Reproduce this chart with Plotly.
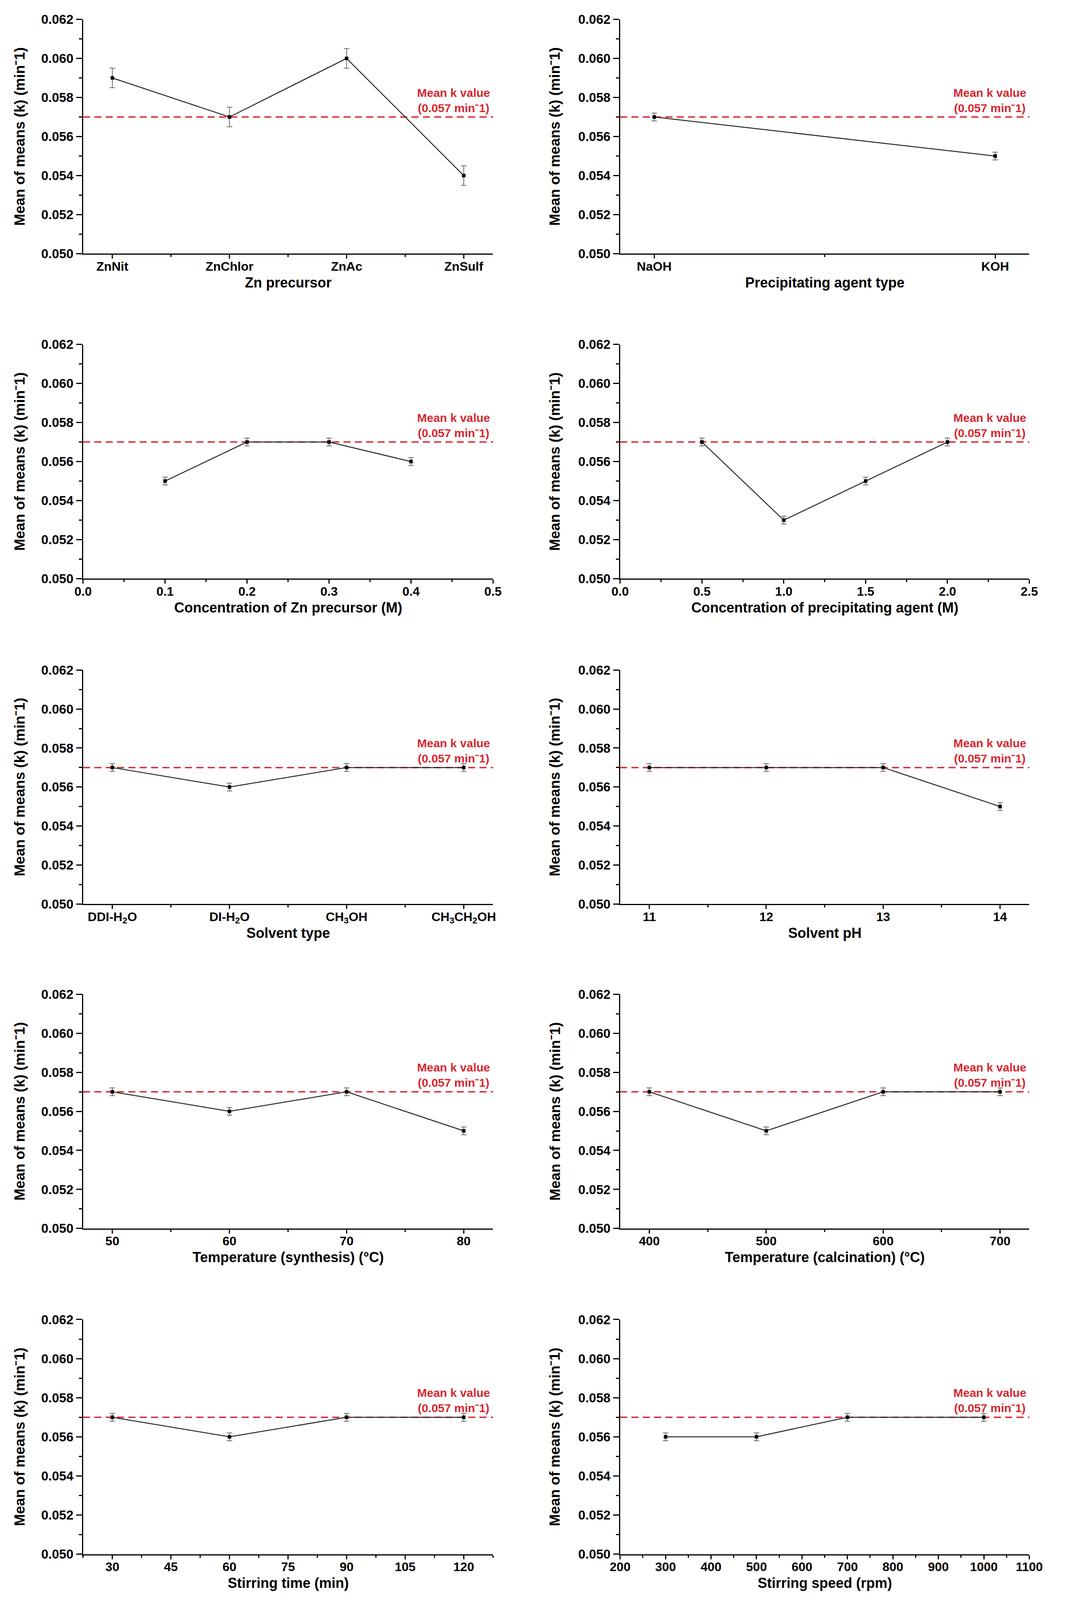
import plotly.graph_objects as go

# ---------------- data ----------------
MEAN_K = 0.057
Y_TITLE = "Mean of means (k) (min⁻1)"
MEAN_LABEL = "Mean k value<br>(0.057 min⁻1)"

zn_precursor = ["ZnNit", "ZnChlor", "ZnAc", "ZnSulf"]
zn_precursor_k = [0.059, 0.057, 0.060, 0.054]
zn_precursor_err = [0.0005, 0.0005, 0.0005, 0.0005]

precip_agent = ["NaOH", "KOH"]
precip_agent_k = [0.057, 0.055]
precip_agent_err = [0.0002, 0.0002]

zn_conc = [0.1, 0.2, 0.3, 0.4]
zn_conc_k = [0.055, 0.057, 0.057, 0.056]
zn_conc_err = [0.0002, 0.0002, 0.0002, 0.0002]

precip_conc = [0.5, 1.0, 1.5, 2.0]
precip_conc_k = [0.057, 0.053, 0.055, 0.057]
precip_conc_err = [0.0002, 0.0002, 0.0002, 0.0002]

solvent = ["DDI-H<sub>2</sub>O", "DI-H<sub>2</sub>O", "CH<sub>3</sub>OH", "CH<sub>3</sub>CH<sub>2</sub>OH"]
solvent_k = [0.057, 0.056, 0.057, 0.057]
solvent_err = [0.0002, 0.0002, 0.0002, 0.0002]

ph = [11, 12, 13, 14]
ph_k = [0.057, 0.057, 0.057, 0.055]
ph_err = [0.0002, 0.0002, 0.0002, 0.0002]

t_synth = [50, 60, 70, 80]
t_synth_k = [0.057, 0.056, 0.057, 0.055]
t_synth_err = [0.0002, 0.0002, 0.0002, 0.0002]

t_calc = [400, 500, 600, 700]
t_calc_k = [0.057, 0.055, 0.057, 0.057]
t_calc_err = [0.0002, 0.0002, 0.0002, 0.0002]

stir_time = [30, 60, 90, 120]
stir_time_k = [0.057, 0.056, 0.057, 0.057]
stir_time_err = [0.0002, 0.0002, 0.0002, 0.0002]

stir_speed = [300, 500, 700, 1000]
stir_speed_k = [0.056, 0.056, 0.057, 0.057]
stir_speed_err = [0.0002, 0.0002, 0.0002, 0.0002]

# ---------------- panel configuration ----------------
panels = [
    dict(cats=zn_precursor, y=zn_precursor_k, err=zn_precursor_err, title="Zn precursor",
         rng=[-0.25, 3.25]),
    dict(cats=precip_agent, y=precip_agent_k, err=precip_agent_err, title="Precipitating agent type",
         rng=[-0.1, 1.1]),
    dict(x=zn_conc, y=zn_conc_k, err=zn_conc_err, title="Concentration of Zn precursor (M)",
         rng=[0, 0.5], dtick=0.1, mdtick=0.05, fmt=".1f", tick0=0),
    dict(x=precip_conc, y=precip_conc_k, err=precip_conc_err, title="Concentration of precipitating agent (M)",
         rng=[0, 2.5], dtick=0.5, mdtick=0.25, fmt=".1f", tick0=0),
    dict(cats=solvent, y=solvent_k, err=solvent_err, title="Solvent type",
         rng=[-0.25, 3.25]),
    dict(x=ph, y=ph_k, err=ph_err, title="Solvent pH",
         rng=[10.75, 14.25], dtick=1, mdtick=0.5, tick0=11),
    dict(x=t_synth, y=t_synth_k, err=t_synth_err, title="Temperature (synthesis) (°C)",
         rng=[47.5, 82.5], dtick=10, mdtick=5, tick0=50),
    dict(x=t_calc, y=t_calc_k, err=t_calc_err, title="Temperature (calcination) (°C)",
         rng=[375, 725], dtick=100, mdtick=50, tick0=400),
    dict(x=stir_time, y=stir_time_k, err=stir_time_err, title="Stirring time (min)",
         rng=[22.5, 127.5], dtick=15, mdtick=7.5, tick0=30),
    dict(x=stir_speed, y=stir_speed_k, err=stir_speed_err, title="Stirring speed (rpm)",
         rng=[200, 1100], dtick=100, mdtick=50, tick0=200),
]

# reference geometry (in reference pixels, 2732 x 5400), converted to paper fractions
REF_W, REF_H = 2732, 5400
col_px = [(190, 1264), (1597, 2669)]
ytitle_px = [24, 1426]
row_px = [(42, 840), (1149, 1947), (2258, 3055), (3362, 4160), (4470, 5269)]

FONT = "Liberation Sans, Arial, Helvetica, sans-serif"
RED = "#d8262e"

fig = go.Figure()
layout = dict(
    autosize=True, margin=dict(l=0, r=0, t=0, b=0),
    paper_bgcolor="white", plot_bgcolor="white", showlegend=False,
    shapes=[], annotations=[],
)

for i, p in enumerate(panels):
    r, c = divmod(i, 2)
    n = i + 1
    xa = "x" if n == 1 else f"x{n}"
    ya = "y" if n == 1 else f"y{n}"
    xkey = "xaxis" if n == 1 else f"xaxis{n}"
    ykey = "yaxis" if n == 1 else f"yaxis{n}"

    xs = list(range(len(p["cats"]))) if "cats" in p else p["x"]

    fig.add_trace(go.Scatter(
        x=xs, y=p["y"], xaxis=xa, yaxis=ya, mode="lines+markers",
        line=dict(color="#2a2a2a", width=2.5),
        marker=dict(symbol="square", size=9, color="black"),
        error_y=dict(type="data", array=p["err"], color="#6a6a6a", thickness=2, width=7),
        showlegend=False,
    ))

    x0, x1 = col_px[c]
    y0, y1 = row_px[r]
    xdom = [x0 / REF_W, x1 / REF_W]
    ydom = [1 - y1 / REF_H, 1 - y0 / REF_H]

    xaxis = dict(
        domain=xdom, anchor=ya, range=p["rng"], showgrid=False, zeroline=False,
        showline=True, linecolor="black", linewidth=3,
        ticks="outside", ticklen=10, tickwidth=3, tickcolor="black",
        tickfont=dict(family=FONT, size=32, color="black", weight="bold"),
        ticklabelstandoff=-8,
    )
    if "cats" in p:
        xaxis.update(tickmode="array", tickvals=xs, ticktext=p["cats"],
                     minor=dict(ticks="outside", ticklen=6, tickwidth=3, tickcolor="black",
                                tickmode="array", tickvals=[v + 0.5 for v in xs[:-1]]))
    else:
        xaxis.update(tickmode="linear", tick0=p["tick0"], dtick=p["dtick"],
                     minor=dict(ticks="outside", ticklen=6, tickwidth=3, tickcolor="black",
                                dtick=p["mdtick"], tick0=p["tick0"]))
        if "fmt" in p:
            xaxis["tickformat"] = p["fmt"]

    yaxis = dict(
        domain=ydom, anchor=xa, range=[0.050, 0.062], showgrid=False, zeroline=False,
        showline=True, linecolor="black", linewidth=3,
        tickmode="linear", tick0=0.050, dtick=0.002, tickformat=".3f",
        ticks="outside", ticklen=15, tickwidth=3, tickcolor="black",
        minor=dict(ticks="outside", ticklen=8, tickwidth=3, tickcolor="black", dtick=0.001),
        tickfont=dict(family=FONT, size=33, color="black", weight="bold"),
    )
    layout[xkey] = xaxis
    layout[ykey] = yaxis

    # x-axis title
    layout["annotations"].append(dict(
        xref=f"{xa} domain", x=0.5, xanchor="center", yref=f"{ya} domain", y=0,
        yanchor="middle", yshift=-74, text=p["title"], showarrow=False,
        font=dict(family=FONT, size=36, color="black", weight="bold"),
    ))
    # y-axis title
    layout["annotations"].append(dict(
        xref="paper", x=ytitle_px[c] / REF_W, xanchor="center", yref=f"{ya} domain", y=0.5,
        yanchor="middle", textangle=-90, text=Y_TITLE, showarrow=False,
        font=dict(family=FONT, size=37, color="black", weight="bold"),
    ))
    # mean k reference line + label
    layout["shapes"].append(dict(
        type="line", xref=f"{xa} domain", x0=0, x1=1, yref=ya, y0=MEAN_K, y1=MEAN_K,
        line=dict(color=RED, width=3.5, dash="18px,11px"), layer="below",
    ))
    layout["annotations"].append(dict(
        xref=f"{xa} domain", x=0.995, xanchor="right", yref=ya, y=MEAN_K, yanchor="bottom",
        yshift=5, text=MEAN_LABEL, showarrow=False, align="center",
        font=dict(family=FONT, size=30, color=RED, weight="bold"),
    ))

fig.update_layout(**layout)

post = """
document.documentElement.style.margin='0';
document.body.style.margin='0';
document.body.style.overflow='hidden';
var gd=document.getElementById('{plot_id}');
Plotly.Plots.resize(gd);
"""
fig.write_html("out.html", default_width="100vw", default_height="100vh",
               config={"responsive": True, "displayModeBar": False}, post_script=post)
